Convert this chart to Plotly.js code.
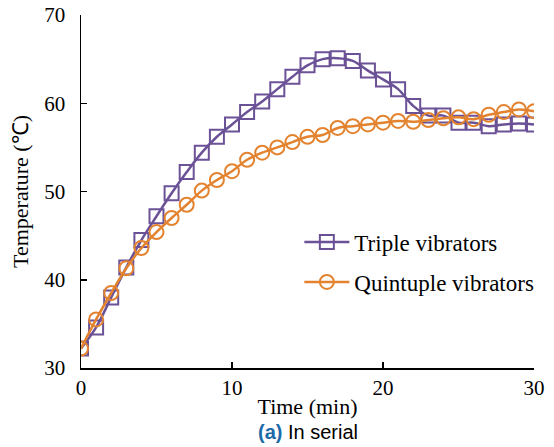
<!DOCTYPE html>
<html><head><meta charset="utf-8">
<script src="https://cdn.plot.ly/plotly-3.0.1.min.js"></script>
<style>html,body{margin:0;padding:0;background:#fff}#chart{width:554px;height:447px}</style>
</head><body><div id="chart"></div>
<script>
const timeMin = [0,1,2,3,4,5,6,7,8,9,10,11,12,13,14,15,16,17,18,19,20,21,22,23,24,25,26,27,28,29,30];
const tripleVibrators = [32.2,34.6,38.0,41.4,44.5,47.2,49.8,52.2,54.4,56.2,57.6,59.0,60.2,61.6,63.0,64.3,65.0,65.1,64.8,63.7,62.7,61.6,59.7,58.6,58.6,57.8,57.8,57.4,57.6,57.7,57.6];
const quintupleVibrators = [32.2,35.5,38.5,41.3,43.6,45.4,47.0,48.5,50.1,51.3,52.3,53.6,54.4,55.0,55.6,56.2,56.4,57.2,57.4,57.6,57.8,58.0,57.9,58.1,58.3,58.4,58.2,58.7,59.0,59.3,59.1];
const xTicks = [0,10,20,30];
const yTicks = [30,40,50,60,70];

const purple = '#6b5196';
const orange = '#e3832f';
const serif = '"Liberation Serif", "Times New Roman", serif';

const traces = [
  {x: timeMin, y: tripleVibrators, name: 'Triple vibrators', type: 'scatter', mode: 'lines+markers',
   legendgroup: 'a',
   line: {color: purple, width: 2.5, shape: 'spline', smoothing: 1},
   marker: {symbol: 'square-open', size: 14, color: purple, line: {width: 2, color: purple}}},
  {x: timeMin, y: quintupleVibrators, name: 'Quintuple vibrators', type: 'scatter', mode: 'lines+markers',
   legendgroup: 'b',
   line: {color: orange, width: 2.5, shape: 'spline', smoothing: 1},
   marker: {symbol: 'circle-open', size: 14, color: orange, line: {width: 2, color: orange}}}
];

const layout = {
  width: 554, height: 447,
  margin: {l: 81, r: 20, t: 15, b: 79},
  paper_bgcolor: '#fff', plot_bgcolor: '#fff',
  font: {family: serif, color: '#000', size: 21},
  showlegend: true,
  legend: {x: 0.482, y: 0.30, xanchor: 'left', yanchor: 'middle', bgcolor: 'rgba(0,0,0,0)',
           itemwidth: 45,
           font: {family: serif, size: 23, color: '#000'}, tracegroupgap: 7, traceorder: 'grouped'},
  xaxis: {range: [0, 30], tickvals: xTicks, ticktext: xTicks.map(String), ticks: 'inside', ticklen: 6,
          tickwidth: 1.5, tickcolor: '#000', showline: true, linecolor: '#000', linewidth: 1.5,
          showgrid: false, zeroline: false, tickfont: {family: serif, size: 21, color: '#000'},
          title: {text: 'Time (min)', font: {family: serif, size: 22, color: '#000'}, standoff: 0}},
  yaxis: {range: [30, 70], tickvals: yTicks, ticktext: yTicks.map(String), ticks: 'inside', ticklen: 6,
          tickwidth: 1.5, tickcolor: '#000', showline: true, linecolor: '#000', linewidth: 1.5,
          showgrid: false, zeroline: false, tickfont: {family: serif, size: 21, color: '#000'},
          ticklabelstandoff: 10,
          title: {text: 'Temperature (℃)', font: {family: serif, size: 22, color: '#000'}, standoff: 9}},
  annotations: [{
    xref: 'paper', yref: 'paper', x: 0.5, y: 0, xanchor: 'center', yanchor: 'middle', yshift: -64,
    showarrow: false,
    text: '<b><span style="color:#1c6aa8">(a)</span></b> In serial',
    font: {family: '"Liberation Sans", Arial, sans-serif', size: 20, color: '#000'}
  }]
};

Plotly.newPlot('chart', traces, layout, {displayModeBar: false, staticPlot: true});
</script>
</body></html>
